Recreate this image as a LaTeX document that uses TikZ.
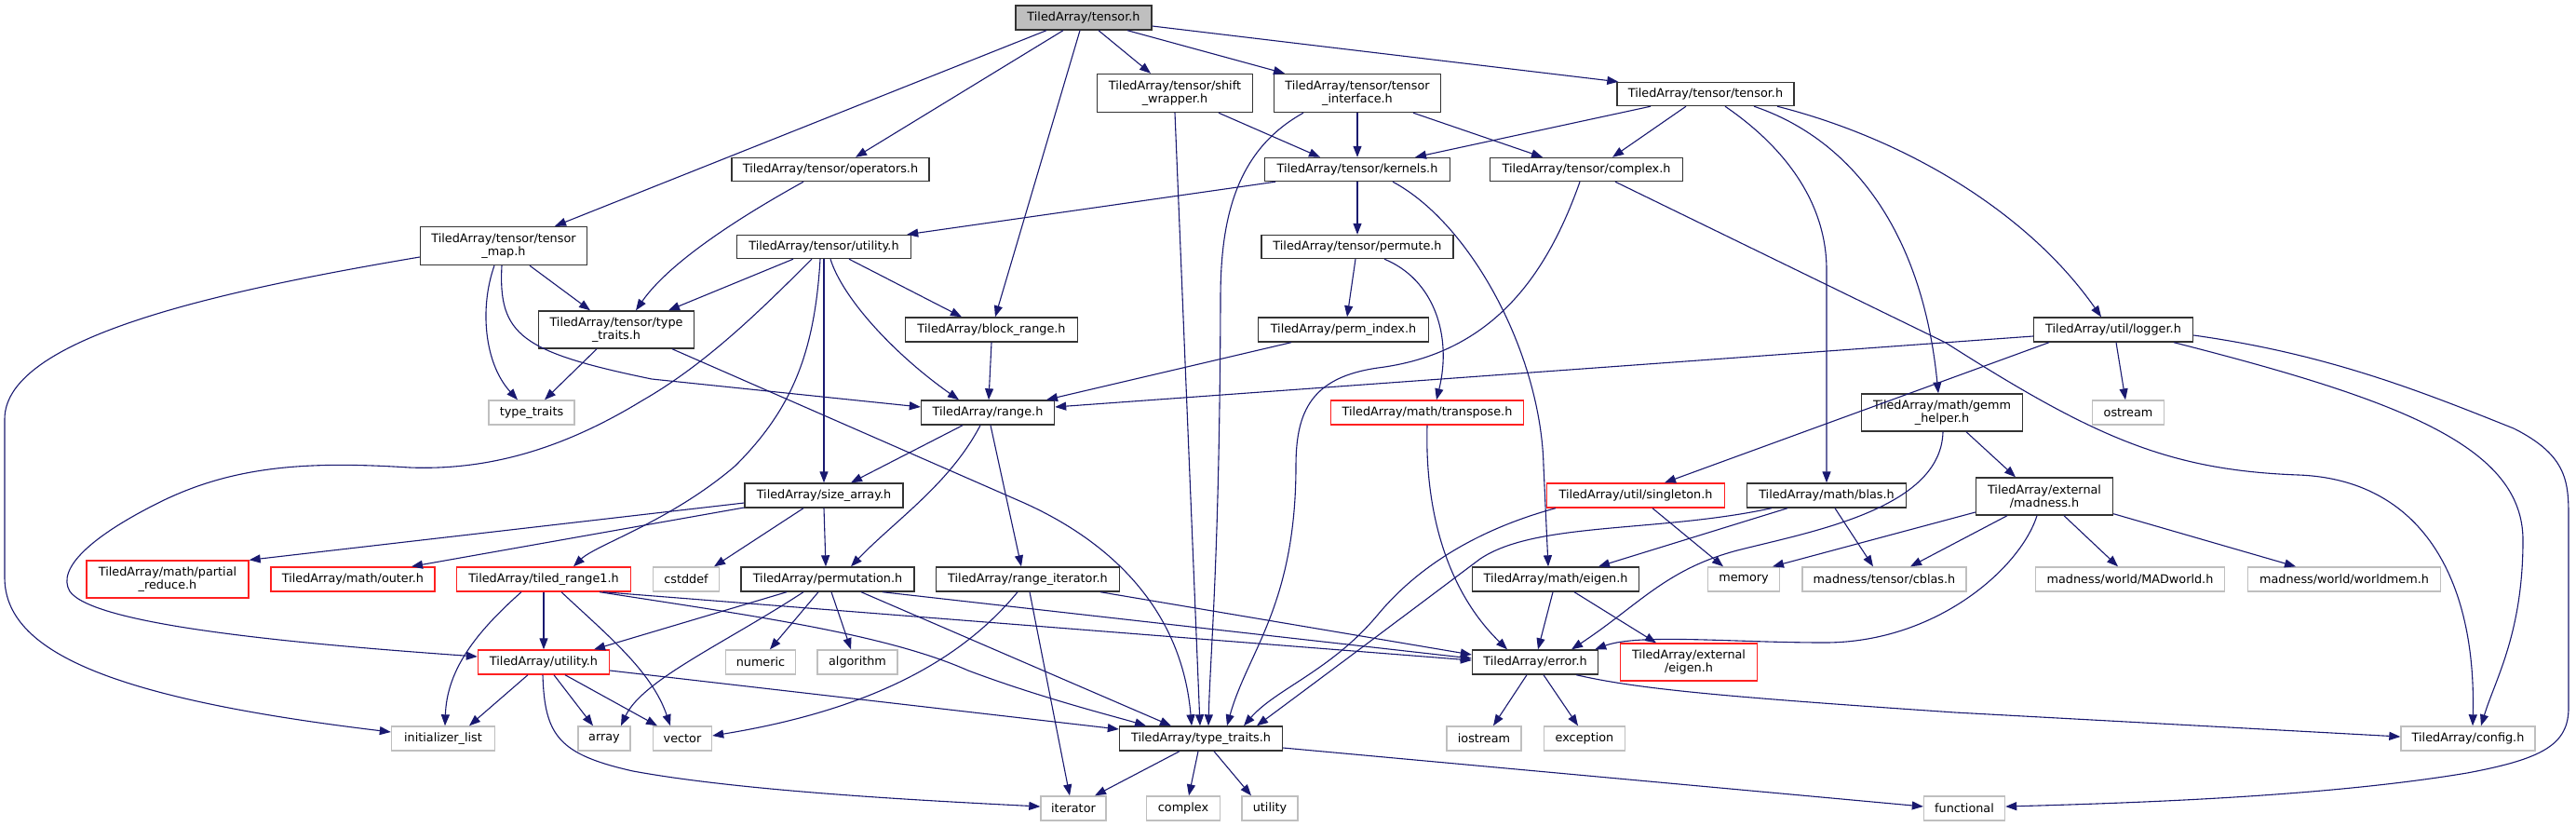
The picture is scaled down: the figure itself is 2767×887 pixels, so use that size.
\documentclass[tikz,border=0pt]{standalone}
\usepackage{fontspec}
\setmainfont{DejaVu Sans}
\usetikzlibrary{arrows.meta,calc}
\definecolor{edgec}{HTML}{191970}
\definecolor{grayb}{HTML}{BFBFBF}
\definecolor{docb}{HTML}{333333}
\definecolor{truncb}{HTML}{FF2020}
\tikzset{
 box/.style={draw, line width=1.4pt, inner sep=0pt, align=center, fill=white,
   font=\fontsize{12.8}{14}\selectfont},
 doc/.style={box, draw=docb},
 sys/.style={box, draw=grayb},
 trunc/.style={box, draw=truncb},
 rootbox/.style={box, draw=docb, fill=grayb},
 e/.style={draw=edgec, line width=1.1pt, -{Triangle[length=12pt,width=9pt]}}
}
\begin{document}
\begin{tikzpicture}[x=1pt,y=-1pt]
\useasboundingbox[fill=white] (0,0) rectangle (2767,887);
% nodes
\node[rootbox, minimum width=146pt, minimum height=26pt] (root) at (1164,19) {TiledArray/tensor.h};
\node[doc, minimum width=179pt, minimum height=41pt] (tmap) at (541,264) {TiledArray/tensor/tensor\\\_map.h};
\node[doc, minimum width=212pt, minimum height=25pt] (ops) at (892,182) {TiledArray/tensor/operators.h};
\node[doc, minimum width=167pt, minimum height=41pt] (shift) at (1262,100) {TiledArray/tensor/shift\\\_wrapper.h};
\node[doc, minimum width=179pt, minimum height=41pt] (tint) at (1458,100) {TiledArray/tensor/tensor\\\_interface.h};
\node[doc, minimum width=190pt, minimum height=25pt] (ttensor) at (1832,101) {TiledArray/tensor/tensor.h};
\node[doc, minimum width=199pt, minimum height=25pt] (kern) at (1458,182) {TiledArray/tensor/kernels.h};
\node[doc, minimum width=207pt, minimum height=25pt] (cplx) at (1704,182) {TiledArray/tensor/complex.h};
\node[doc, minimum width=187pt, minimum height=25pt] (tutil) at (885,265) {TiledArray/tensor/utility.h};
\node[doc, minimum width=206pt, minimum height=25pt] (perm) at (1458,265) {TiledArray/tensor/permute.h};
\node[doc, minimum width=167pt, minimum height=40pt] (ttt) at (662,354) {TiledArray/tensor/type\\\_traits.h};
\node[sys, minimum width=92pt, minimum height=26pt] (stt) at (571,443) {type\_traits};
\node[doc, minimum width=185pt, minimum height=26pt] (brange) at (1065,354) {TiledArray/block\_range.h};
\node[doc, minimum width=143pt, minimum height=26pt] (range) at (1061,443) {TiledArray/range.h};
\node[doc, minimum width=183pt, minimum height=26pt] (pidx) at (1443,354) {TiledArray/perm\_index.h};
\node[trunc, minimum width=207pt, minimum height=26pt] (trans) at (1533,443) {TiledArray/math/transpose.h};
\node[doc, minimum width=171pt, minimum height=26pt] (logger) at (2270,354) {TiledArray/util/logger.h};
\node[sys, minimum width=77pt, minimum height=26pt] (ostream) at (2286,443) {ostream};
\node[doc, minimum width=173pt, minimum height=40pt] (gemm) at (2086,443) {TiledArray/math/gemm\\\_helper.h};
\node[doc, minimum width=170pt, minimum height=26pt] (sarr) at (885,532) {TiledArray/size\_array.h};
\node[trunc, minimum width=191pt, minimum height=26pt] (single) at (1757,532) {TiledArray/util/singleton.h};
\node[doc, minimum width=171pt, minimum height=26pt] (blas) at (1962,532) {TiledArray/math/blas.h};
\node[doc, minimum width=147pt, minimum height=40pt] (madness) at (2196,533) {TiledArray/external\\/madness.h};
\node[trunc, minimum width=174pt, minimum height=40pt] (preduce) at (180,622) {TiledArray/math/partial\\\_reduce.h};
\node[trunc, minimum width=176pt, minimum height=26pt] (outer) at (379,622) {TiledArray/math/outer.h};
\node[trunc, minimum width=187pt, minimum height=26pt] (tr1) at (584,622) {TiledArray/tiled\_range1.h};
\node[sys, minimum width=71pt, minimum height=26pt] (cstddef) at (737,622) {cstddef};
\node[doc, minimum width=186pt, minimum height=26pt] (permutation) at (889,622) {TiledArray/permutation.h};
\node[doc, minimum width=197pt, minimum height=26pt] (riter) at (1104,622) {TiledArray/range\_iterator.h};
\node[doc, minimum width=179pt, minimum height=26pt] (eigen) at (1671,622) {TiledArray/math/eigen.h};
\node[sys, minimum width=77pt, minimum height=26pt] (memory) at (1873,622) {memory};
\node[sys, minimum width=176pt, minimum height=26pt] (cblas) at (2024,622) {madness/tensor/cblas.h};
\node[sys, minimum width=203pt, minimum height=26pt] (madworld) at (2288,622) {madness/world/MADworld.h};
\node[sys, minimum width=207pt, minimum height=26pt] (worldmem) at (2518,622) {madness/world/worldmem.h};
\node[trunc, minimum width=141pt, minimum height=26pt] (util) at (584,711) {TiledArray/utility.h};
\node[sys, minimum width=75pt, minimum height=26pt] (numeric) at (817,711) {numeric};
\node[sys, minimum width=86pt, minimum height=26pt] (algorithm) at (921,711) {algorithm};
\node[doc, minimum width=135pt, minimum height=26pt] (error) at (1649,711) {TiledArray/error.h};
\node[trunc, minimum width=147pt, minimum height=40pt] (eeigen) at (1814,711) {TiledArray/external\\/eigen.h};
\node[sys, minimum width=111pt, minimum height=26pt] (initl) at (476,793) {initializer\_list};
\node[sys, minimum width=56pt, minimum height=26pt] (array) at (649,793) {array};
\node[sys, minimum width=63pt, minimum height=26pt] (vector) at (733,793) {vector};
\node[doc, minimum width=175pt, minimum height=26pt] (tatt) at (1290,793) {TiledArray/type\_traits.h};
\node[sys, minimum width=80pt, minimum height=26pt] (iostream) at (1594,793) {iostream};
\node[sys, minimum width=87pt, minimum height=26pt] (exception) at (1702,793) {exception};
\node[sys, minimum width=144pt, minimum height=26pt] (config) at (2651,793) {TiledArray/config.h};
\node[sys, minimum width=70pt, minimum height=26pt] (iterator) at (1153,868) {iterator};
\node[sys, minimum width=79pt, minimum height=26pt] (complex) at (1271,868) {complex};
\node[sys, minimum width=60pt, minimum height=26pt] (utility) at (1364,868) {utility};
\node[sys, minimum width=87pt, minimum height=26pt] (functional) at (2110,868) {functional};
% edges
\draw[e] ($(root.south)+(-40,0)$) -- ($(tmap.north)+(55,0)$);
\draw[e] ($(root.south)+(-22,0)$) -- ($(ops.north)+(27,0)$);
\draw[e] ($(root.south)+(-4,0)$) -- ($(brange.north)+(4,0)$);
\draw[e] ($(root.south)+(16,0)$) -- ($(shift.north)+(-26,0)$);
\draw[e] ($(root.south)+(47,0)$) -- ($(tint.north)+(-78,0)$);
\draw[e] ($(root.east)+(0,9)$) -- ($(ttensor.north west)+(2,0)$);
\draw[e] ($(tmap.west)+(0,12)$) .. controls (250,310) and (5,360) .. (5,450) -- (5,620) .. controls (5,700) and (120,750) .. ($(initl.west)+(0,-7)$);
\draw[e] ($(tmap.south)+(-10,0)$) .. controls (515,330) and (520,390) .. ($(stt.north)+(-15,0)$);
\draw[e] ($(tmap.south)+(28,0)$) -- ($(ttt.north)+(-28,0)$);
\draw[e] ($(tmap.south)+(-2,0)$) .. controls (535,360) and (560,378) .. (700,407) -- ($(range.west)+(0,-6)$);
\draw[e] ($(ops.south)+(-29,0)$) .. controls (800,230) and (720,280) .. ($(ttt.north)+(21,0)$);
\draw[e] ($(ttt.south)+(-21,0)$) -- ($(stt.north)+(14,0)$);
\draw[e] ($(ttt.south)+(60,0)$) -- (1100,540) .. controls (1200,585) and (1270,660) .. ($(tatt.north)+(-10,0)$);
\draw[e] ($(shift.south)+(47,0)$) -- ($(kern.north)+(-40,0)$);
\draw[e] (shift.south) -- ($(tatt.north)+(-1,0)$);
\draw[e] (tint.south) -- (kern.north);
\draw[e] ($(tint.south)+(60,0)$) -- ($(cplx.north)+(-47,0)$);
\draw[e] ($(tint.south)+(-58,0)$) .. controls (1330,160) and (1311,230) .. (1311,320) .. controls (1310,600) and (1300,700) .. ($(tatt.north)+(8,0)$);
\draw[e] ($(ttensor.south)+(-59,0)$) -- ($(kern.north)+(62,0)$);
\draw[e] ($(ttensor.south)+(-21,0)$) -- ($(cplx.north)+(28,0)$);
\draw[e] ($(ttensor.south)+(21,0)$) .. controls (1920,160) and (1962,220) .. (1962,290) -- (blas.north);
\draw[e] ($(ttensor.south)+(52,0)$) .. controls (1990,150) and (2065,250) .. ($(gemm.north)+(-4,0)$);
\draw[e] ($(ttensor.south)+(77,0)$) .. controls (2050,150) and (2180,230) .. ($(logger.north)+(-13,0)$);
\draw[e] ($(kern.south)+(-88,0)$) -- ($(tutil.north east)+(-5,0)$);
\draw[e] (kern.south) -- (perm.north);
\draw[e] ($(kern.south)+(38,0)$) .. controls (1580,240) and (1655,380) .. (1658,500) -- ($(eigen.north)+(-8,0)$);
\draw[e] ($(cplx.south)+(-7,0)$) .. controls (1660,300) and (1600,380) .. (1480,395) .. controls (1410,405) and (1392,440) .. (1392,500) .. controls (1392,650) and (1340,700) .. ($(tatt.north)+(28,0)$);
\draw[e] ($(cplx.south)+(31,0)$) -- (2090,368) .. controls (2250,470) and (2330,505) .. (2469,510) .. controls (2600,515) and (2660,620) .. ($(config.north)+(5,0)$);
\draw[e] ($(perm.south)+(-2,0)$) -- ($(pidx.north)+(4,0)$);
\draw[e] ($(perm.south)+(29,0)$) .. controls (1540,300) and (1560,360) .. ($(trans.north)+(10,0)$);
\draw[e] ($(pidx.south)+(-56,0)$) -- ($(range.north)+(63,0)$);
\draw[e] (brange.south) -- ($(range.north)+(1,0)$);
\draw[e] ($(tutil.south)+(7,0)$) .. controls (905,320) and (960,380) .. ($(range.north)+(-31,0)$);
\draw[e] ($(tutil.south)+(27,0)$) -- ($(brange.north)+(-32,0)$);
\draw[e] (tutil.south) -- (sarr.north);
\draw[e] ($(tutil.south)+(-33,0)$) -- ($(ttt.north)+(56,0)$);
\draw[e] ($(tutil.south)+(-4,0)$) .. controls (875,380) and (850,440) .. (790,500) .. controls (720,560) and (640,585) .. ($(tr1.north)+(32,0)$);
\draw[e] ($(tutil.south)+(-13,0)$) .. controls (820,330) and (760,390) .. (690,430) .. controls (600,485) and (520,505) .. (440,502) .. controls (330,495) and (250,500) .. (170,540) .. controls (100,575) and (60,610) .. (75,635) .. controls (100,670) and (300,690) .. ($(util.west)+(0,-6)$);
\draw[e] ($(tr1.south)+(-24,0)$) .. controls (510,680) and (480,720) .. ($(initl.north)+(2,0)$);
\draw[e] (tr1.south) -- (util.north);
\draw[e] ($(tr1.south)+(19,0)$) .. controls (650,680) and (700,720) .. ($(vector.north)+(-13,0)$);
\draw[e] ($(tr1.south east)+(-34,0)$) .. controls (800,660) and (950,680) .. (1040,720) .. controls (1120,750) and (1200,770) .. ($(tatt.north)+(-59,0)$);
\draw[e] ($(tr1.south east)+(-30,0)$) -- ($(error.west)+(0,-2)$);
\draw[e] ($(sarr.west)+(0,8)$) -- (preduce.north east);
\draw[e] ($(sarr.west)+(0,13)$) -- ($(outer.north)+(63,0)$);
\draw[e] ($(sarr.south)+(-22,0)$) -- ($(cstddef.north)+(30,0)$);
\draw[e] (sarr.south) -- ($(permutation.north)+(-2,0)$);
\draw[e] ($(range.south)+(-27,0)$) -- ($(sarr.north)+(29,0)$);
\draw[e] ($(range.south)+(-8,0)$) .. controls (1020,520) and (960,560) .. ($(permutation.north)+(25,0)$);
\draw[e] ($(range.south)+(3,0)$) -- ($(riter.north)+(-7,0)$);
\draw[e] ($(riter.south)+(-11,0)$) .. controls (1040,700) and (950,760) .. ($(vector.east)+(0,-3)$);
\draw[e] ($(riter.south)+(2,0)$) -- ($(iterator.north)+(-4,0)$);
\draw[e] ($(riter.south)+(78,0)$) -- ($(error.west)+(0,-8)$);
\draw[e] ($(permutation.south)+(-44,0)$) -- ($(util.north)+(54,0)$);
\draw[e] ($(permutation.south)+(-26,0)$) .. controls (780,690) and (690,730) .. ($(array.north)+(18,0)$);
\draw[e] ($(permutation.south)+(-10,0)$) -- ($(numeric.north)+(10,0)$);
\draw[e] ($(permutation.south)+(4,0)$) -- ($(algorithm.north)+(-7,0)$);
\draw[e] ($(permutation.south)+(36,0)$) -- ($(tatt.north)+(-32,0)$);
\draw[e] ($(permutation.south)+(59,0)$) -- ($(error.west)+(0,-4)$);
\draw[e] ($(util.south)+(-17,0)$) -- ($(initl.north)+(28,0)$);
\draw[e] ($(util.south)+(11,0)$) -- ($(array.north)+(-12,0)$);
\draw[e] ($(util.south)+(23,0)$) -- ($(vector.north)+(-27,0)$);
\draw[e] ($(util.east)+(0,9)$) -- ($(tatt.west)+(0,-10)$);
\draw[e] ($(util.south)+(-1,0)$) .. controls (585,790) and (600,810) .. (680,828) .. controls (800,850) and (1000,860) .. ($(iterator.west)+(0,-2)$);
\draw[e] ($(tatt.south)+(-23,0)$) -- ($(iterator.north)+(23,0)$);
\draw[e] ($(tatt.south)+(-3,0)$) -- ($(complex.north)+(6,0)$);
\draw[e] ($(tatt.south)+(14,0)$) -- ($(utility.north)+(-20,0)$);
\draw[e] ($(tatt.east)+(0,10)$) -- ($(functional.west)+(0,-2)$);
\draw[e] ($(single.south)+(18,0)$) -- ($(memory.north)+(-22,0)$);
\draw[e] ($(single.south west)+(10,0)$) .. controls (1600,565) and (1530,600) .. (1480,660) .. controls (1430,720) and (1370,740) .. ($(tatt.north)+(46,0)$);
\draw[e] ($(blas.south west)+(27,0)$) .. controls (1780,572) and (1650,560) .. (1590,600) .. controls (1510,660) and (1430,720) .. ($(tatt.north)+(60,0)$);
\draw[e] ($(blas.south)+(-42,0)$) -- ($(eigen.north)+(46,0)$);
\draw[e] ($(blas.south)+(9,0)$) -- ($(cblas.north)+(-12,0)$);
\draw[e] ($(eigen.south)+(-3,0)$) -- ($(error.north)+(3,0)$);
\draw[e] ($(eigen.south)+(20,0)$) -- ($(eeigen.north)+(-35,0)$);
\draw[e] ($(gemm.south)+(26,0)$) -- ($(madness.north)+(-31,0)$);
\draw[e] ($(gemm.south)+(1,0)$) .. controls (2085,545) and (1950,570) .. (1870,590) .. controls (1790,610) and (1760,650) .. ($(error.north)+(39,0)$);
\draw[e] ($(madness.west)+(0,17)$) -- ($(memory.north)+(31,0)$);
\draw[e] ($(madness.south)+(-40,0)$) -- ($(cblas.north)+(28,0)$);
\draw[e] ($(madness.south)+(21,0)$) -- ($(madworld.north)+(-13,0)$);
\draw[e] ($(madness.south east)+(0,-2)$) -- ($(worldmem.north)+(-52,0)$);
\draw[e] ($(madness.south)+(-8,0)$) .. controls (2170,610) and (2080,690) .. (1960,690) .. controls (1860,690) and (1760,680) .. ($(error.north east)+(-4,0)$);
\draw[e] ($(logger.west)+(0,7)$) -- ($(range.east)+(0,-6)$);
\draw[e] ($(logger.south)+(-69,0)$) -- ($(single.north)+(31,0)$);
\draw[e] ($(logger.south)+(3,0)$) -- ($(ostream.north)+(-3,0)$);
\draw[e] ($(logger.south)+(65,0)$) .. controls (2580,430) and (2710,480) .. (2710,580) .. controls (2710,680) and (2680,730) .. ($(config.north)+(14,0)$);
\draw[e] ($(logger.east)+(0,6)$) .. controls (2500,380) and (2600,420) .. (2700,460) .. controls (2760,490) and (2759,520) .. (2759,560) -- (2759,760) .. controls (2759,800) and (2730,815) .. (2650,830) .. controls (2500,855) and (2300,862) .. ($(functional.east)+(0,-2)$);
\draw[e] ($(error.south)+(-9,0)$) -- ($(iostream.north)+(10,0)$);
\draw[e] ($(error.south)+(9,0)$) -- ($(exception.north)+(-7,0)$);
\draw[e] ($(error.south east)+(-24,0)$) .. controls (1760,740) and (1850,748) .. (2100,765) -- ($(config.west)+(0,-2)$);
\draw[e] (trans.south) .. controls (1530,560) and (1560,640) .. ($(error.north)+(-30,0)$);
\end{tikzpicture}
\end{document}
